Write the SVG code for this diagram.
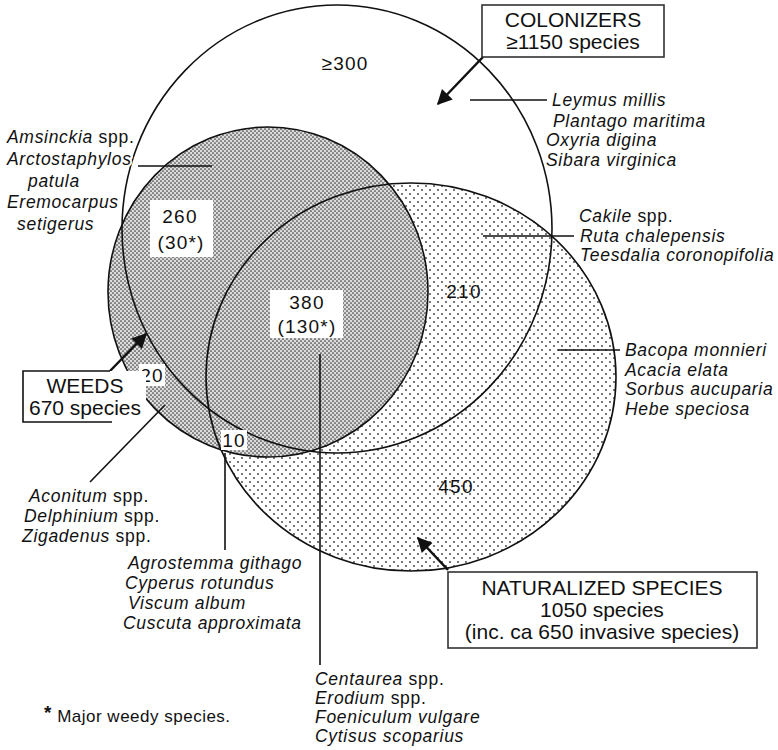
<svg xmlns="http://www.w3.org/2000/svg" width="778" height="750" viewBox="0 0 778 750">
<style>
text{font-family:"Liberation Sans",Arial,Helvetica,sans-serif;fill:#111}
.it{font-style:italic;font-size:17.5px;letter-spacing:0.7px}
.up{font-style:normal}
.halo{stroke:#fff;stroke-width:4;paint-order:stroke;stroke-linejoin:round}
.num{font-size:19px;letter-spacing:1.2px;text-anchor:middle}
.bx{font-size:21px;text-anchor:middle}
.ln{stroke:#111;stroke-width:1.6;fill:none}
.arr{stroke:#111;stroke-width:2.5;fill:none;marker-end:url(#ah)}
.outline{fill:none;stroke:#111;stroke-width:1.6}
.wb{fill:#fff}
</style>
<defs>
<pattern id="dark" width="4" height="4" patternUnits="userSpaceOnUse"><rect width="4" height="4" fill="#dcdcdc"/><circle cx="1" cy="1" r="0.85" fill="#3a3a3a"/><circle cx="3" cy="3" r="0.85" fill="#3a3a3a"/></pattern>
<pattern id="light" width="8" height="8" patternUnits="userSpaceOnUse"><rect width="8" height="8" fill="#fff"/><circle cx="2" cy="2" r="0.9" fill="#3a3a3a"/><circle cx="6" cy="6" r="0.9" fill="#3a3a3a"/></pattern>
<marker id="ah" viewBox="0 0 10 10" refX="9" refY="5" markerWidth="7.5" markerHeight="6" orient="auto" markerUnits="strokeWidth"><path d="M0,0 L10,5 L0,10 Z" fill="#111"/></marker>
</defs>
<rect width="778" height="750" fill="#fff"/>
<g id="naturalized">
<ellipse cx="411" cy="377" rx="205" ry="194" fill="url(#light)" stroke="none"/>
</g>
<g id="weeds">
<ellipse cx="268" cy="292" rx="160" ry="165" fill="url(#dark)" stroke="none"/>
</g>
<g id="outlines">
<ellipse class="outline" cx="411" cy="377" rx="205" ry="194"/>
<ellipse class="outline" cx="268" cy="292" rx="160" ry="165"/>
<ellipse class="outline" cx="337" cy="229" rx="215" ry="224"/>
</g>
<g id="counts">
<text class="num" x="345" y="70">≥300</text>
<rect class="wb" x="150" y="200" width="63" height="57"/>
<text class="num" x="180" y="223">260</text>
<text class="num" x="181" y="249">(30*)</text>
<rect class="wb" x="270" y="290" width="73" height="48"/>
<text class="num" x="307" y="309">380</text>
<text class="num" x="307" y="333">(130*)</text>
<text class="num" x="464" y="298">210</text>
<text class="num" x="456" y="493">450</text>
<rect class="wb" x="139" y="364" width="26" height="22"/>
<text class="num" x="152" y="382">20</text>
<rect class="wb" x="221" y="430" width="26" height="20"/>
<text class="num" x="234" y="447">10</text>
</g>
<g id="connectors">
<line class="arr" x1="483" y1="57" x2="438" y2="104"/>
<line class="arr" x1="110" y1="371" x2="146" y2="334"/>
<line class="arr" x1="448" y1="570" x2="418" y2="538"/>
<line class="ln" x1="470" y1="100" x2="547" y2="100"/>
<line class="ln" x1="138" y1="166" x2="212" y2="166"/>
<line class="ln" x1="483" y1="236" x2="574" y2="236"/>
<line class="ln" x1="558" y1="350" x2="620" y2="350"/>
<line class="ln" x1="165" y1="405" x2="90" y2="482"/>
<line class="ln" x1="225" y1="453" x2="225" y2="550"/>
<line class="ln" x1="320" y1="354" x2="320" y2="665"/>
</g>
<g id="colonizers-box">
<rect x="482" y="5" width="182" height="52" fill="#fff" stroke="#333" stroke-width="1.6"/>
<text class="bx" x="573" y="27">COLONIZERS</text>
<text class="bx" x="573" y="49">≥1150 species</text>
</g>
<g id="weeds-box">
<rect class="wb" x="24" y="371" width="122" height="51"/>
<path class="ln" d="M110,371 H23 V422 H112"/>
<text class="bx" x="85" y="393">WEEDS</text>
<text class="bx" x="85" y="415">670 species</text>
</g>
<g id="naturalized-box">
<rect x="448" y="572" width="309" height="76" fill="#fff" stroke="#333" stroke-width="1.6"/>
<text class="bx" x="602" y="595">NATURALIZED SPECIES</text>
<text class="bx" x="602" y="617">1050 species</text>
<text class="bx" x="602" y="639">(inc. ca 650 invasive species)</text>
</g>
<g id="labels-colonizers">
<text class="it" x="552" y="106">Leymus millis</text>
<text class="it" x="553" y="127">Plantago maritima</text>
<text class="it" x="546" y="146">Oxyria digina</text>
<text class="it" x="546" y="166">Sibara virginica</text>
</g>
<g id="labels-weeds-col">
<text class="it halo" x="7" y="143">Amsinckia<tspan class="up"> spp.</tspan></text>
<text class="it halo" x="7" y="165">Arctostaphylos</text>
<text class="it halo" x="28" y="187">patula</text>
<text class="it halo" x="7" y="208">Eremocarpus</text>
<text class="it halo" x="17" y="230">setigerus</text>
</g>
<g id="labels-col-nat">
<text class="it" x="579" y="222">Cakile<tspan class="up"> spp.</tspan></text>
<text class="it" x="580" y="242">Ruta chalepensis</text>
<text class="it" x="580" y="261">Teesdalia coronopifolia</text>
</g>
<g id="labels-nat">
<text class="it" x="625" y="356">Bacopa monnieri</text>
<text class="it" x="625" y="376">Acacia elata</text>
<text class="it" x="625" y="395">Sorbus aucuparia</text>
<text class="it" x="625" y="415">Hebe speciosa</text>
</g>
<g id="labels-weeds">
<text class="it" x="29" y="502">Aconitum<tspan class="up"> spp.</tspan></text>
<text class="it" x="24" y="522">Delphinium<tspan class="up"> spp.</tspan></text>
<text class="it" x="22" y="542">Zigadenus<tspan class="up"> spp.</tspan></text>
</g>
<g id="labels-weeds-nat">
<text class="it" x="128" y="569">Agrostemma githago</text>
<text class="it" x="125" y="589">Cyperus rotundus</text>
<text class="it" x="128" y="609">Viscum album</text>
<text class="it" x="123" y="629">Cuscuta approximata</text>
</g>
<g id="labels-all">
<text class="it" x="315" y="685">Centaurea<tspan class="up"> spp.</tspan></text>
<text class="it" x="315" y="704">Erodium<tspan class="up"> spp.</tspan></text>
<text class="it" x="315" y="723">Foeniculum vulgare</text>
<text class="it" x="315" y="742">Cytisus scoparius</text>
</g>
<g id="footnote">
<text x="44" y="722" style="font-size:17px;letter-spacing:0.5px"><tspan style="font-weight:bold;font-size:19px" dy="-3">*</tspan><tspan dy="3"> Major weedy species.</tspan></text>
</g>
</svg>
